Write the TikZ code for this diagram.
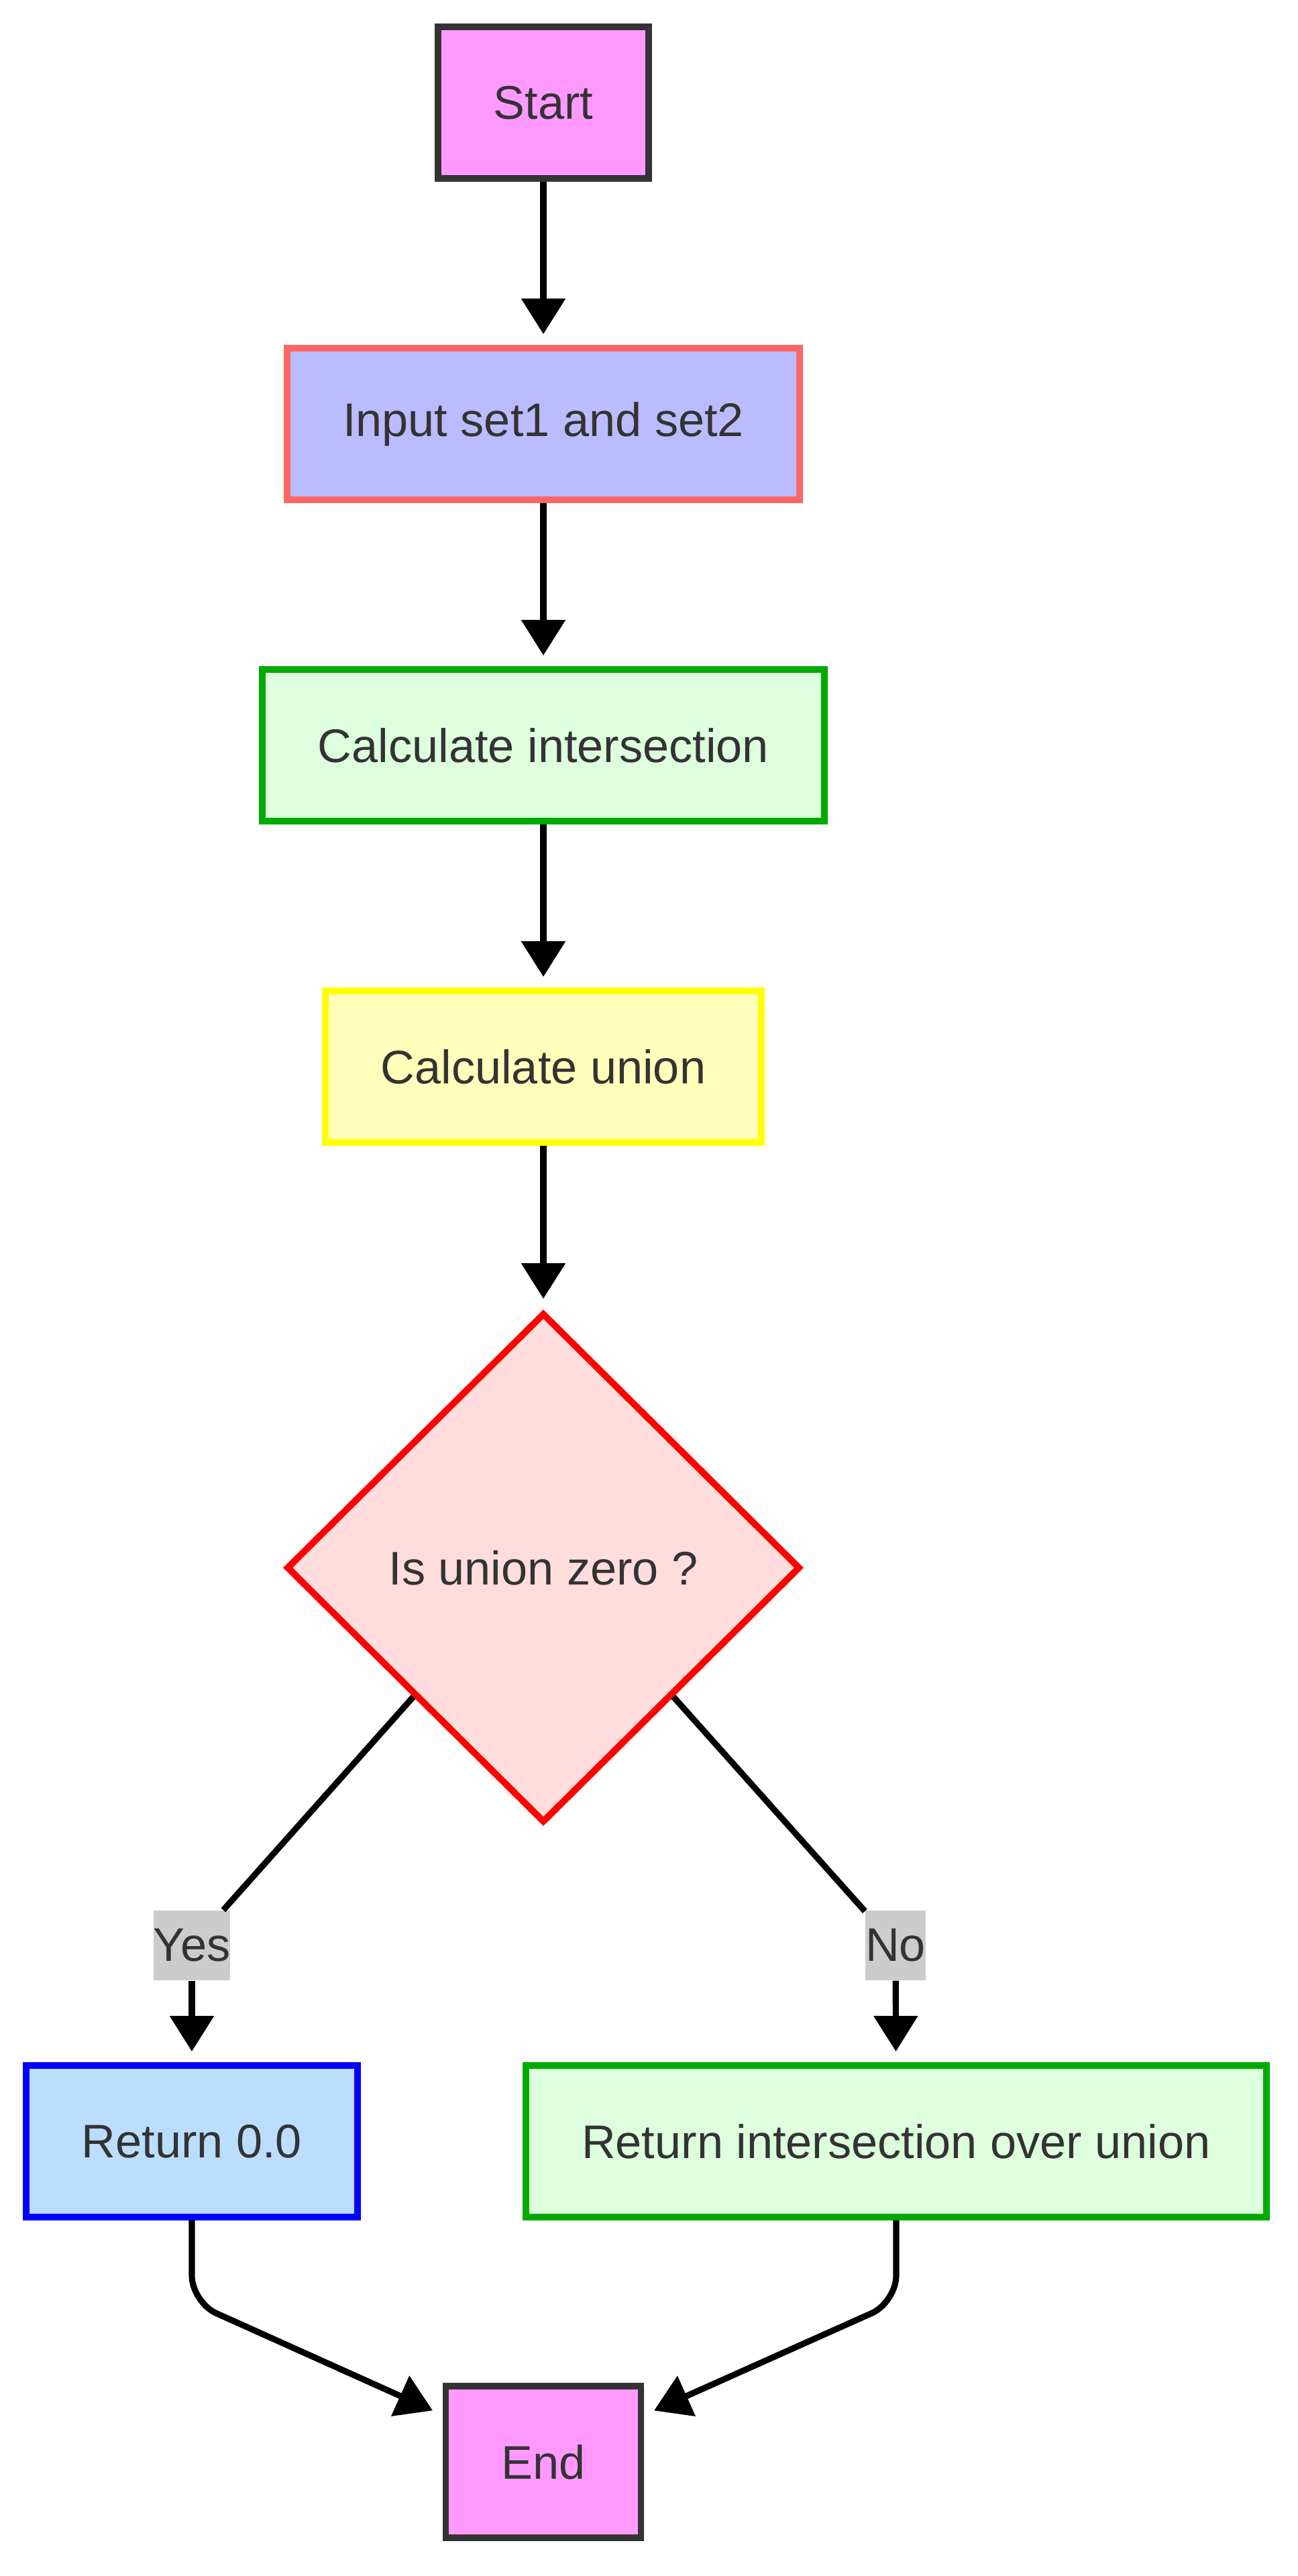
\documentclass[tikz,border=0pt]{standalone}
\usepackage{fontspec}
\setmainfont{Liberation Sans}
\usetikzlibrary{shapes.geometric, arrows.meta, shadows}
\definecolor{ink_gray}{RGB}{51, 51, 51}
\definecolor{orchid_pink}{RGB}{255, 153, 255}
\definecolor{lavender_blue}{RGB}{187, 187, 255}
\definecolor{coral_red}{RGB}{255, 102, 102}
\definecolor{mint_green}{RGB}{221, 255, 221}
\definecolor{leaf_green}{RGB}{0, 170, 0}
\definecolor{butter_yellow}{RGB}{255, 255, 187}
\definecolor{lemon_yellow}{RGB}{255, 255, 0}
\definecolor{blush_red}{RGB}{255, 221, 221}
\definecolor{signal_red}{RGB}{255, 0, 0}
\definecolor{sky_blue}{RGB}{187, 221, 255}
\definecolor{pure_blue}{RGB}{0, 0, 255}
\definecolor{label_gray}{RGB}{204, 204, 204}

\begin{document}
\begin{tikzpicture}[
    process/.style 2 args={
        rectangle,
        draw=#1,
        fill=#2,
        line width=2.8pt,
        minimum height=2.26cm,
        inner xsep=0.83cm,
        text=ink_gray,
        align=center,
        font=\fontsize{20}{24}\selectfont,
        drop shadow={shadow xshift=0.05cm, shadow yshift=-0.05cm, opacity=0.08, fill=black}
    },
    decision/.style={
        diamond,
        draw=signal_red,
        fill=blush_red,
        line width=2.8pt,
        minimum width=7.66cm,
        minimum height=7.60cm,
        inner sep=0pt,
        text=ink_gray,
        font=\fontsize{20}{24}\selectfont,
        drop shadow={shadow xshift=0.05cm, shadow yshift=-0.05cm, opacity=0.08, fill=black}
    },
    edge_label/.style={
        rectangle,
        fill=label_gray,
        inner xsep=0pt,
        minimum height=1.04cm,
        text=ink_gray,
        font=\fontsize{20}{24}\selectfont
    },
    arrow/.style={
        -{Triangle[length=0.53cm, width=0.64cm]},
        line width=2.6pt,
        shorten >=0.16cm
    }
]

\useasboundingbox (0,0) rectangle (19.34,-38.40);

\node[process={ink_gray}{orchid_pink}] (start) at (8.10,-1.53) {Start};
\node[process={coral_red}{lavender_blue}] (input) at (8.10,-6.32) {Input set1 and set2};
\node[process={leaf_green}{mint_green}] (intersection) at (8.10,-11.11) {Calculate intersection};
\node[process={lemon_yellow}{butter_yellow}] (union) at (8.10,-15.90) {Calculate union};
\node[decision] (zero) at (8.10,-23.37) {Is union zero ?};

\node[process={pure_blue}{sky_blue}] (ret_zero) at (2.86,-31.92) {Return 0.0};
\node[process={leaf_green}{mint_green}] (ret_iou) at (13.36,-31.92) {Return intersection over union};
\node[process={ink_gray}{orchid_pink}] (end) at (8.10,-36.70) {End};

\node[edge_label] (yes) at (2.86,-29.00) {Yes};
\node[edge_label] (no) at (13.35,-29.00) {No};

\draw[arrow] (start) -- (input);
\draw[arrow] (input) -- (intersection);
\draw[arrow] (intersection) -- (union);
\draw[arrow] (union) -- (zero);

\draw[line width=2.6pt] (zero.south west) -- (yes);
\draw[arrow] (yes) -- (ret_zero);
\draw[line width=2.6pt] (zero.south east) -- (no);
\draw[arrow] (no) -- (ret_iou);

\draw[arrow, rounded corners=0.4cm] (ret_zero.south) -- ++(0,-1.22) -- (end.155);
\draw[arrow, rounded corners=0.4cm] (ret_iou.south) -- ++(0,-1.22) -- (end.25);

\end{tikzpicture}
\end{document}
